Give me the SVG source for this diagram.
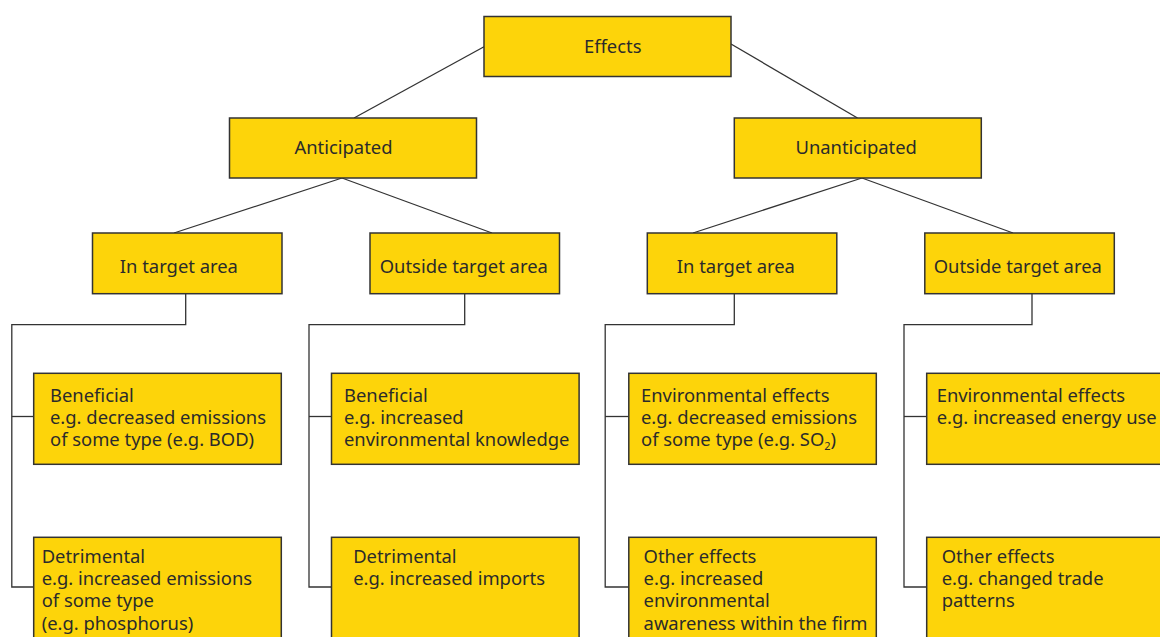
<svg xmlns="http://www.w3.org/2000/svg" width="1160" height="637" viewBox="0 0 1160 637">
<style>
.box{fill:#FDD40A;stroke:#333;stroke-width:1.5}
.t{font-family:"Noto Sans","Open Sans","DejaVu Sans",sans-serif;font-size:18.4px;fill:#2b2b2b}
.c{text-anchor:middle}
.ln{fill:none;stroke:#333;stroke-width:1.3}
</style>
<rect width="1160" height="637" fill="#fff"/>
<g id="connectors">
<line class="ln" x1="484" y1="46.7" x2="354" y2="118"/>
<line class="ln" x1="731" y1="44" x2="857.5" y2="118"/>
<line class="ln" x1="342" y1="178" x2="174" y2="233"/>
<line class="ln" x1="342" y1="178" x2="492" y2="233"/>
<line class="ln" x1="862" y1="178" x2="693" y2="233"/>
<line class="ln" x1="862" y1="178" x2="1013" y2="233"/>
<polyline class="ln" points="185.7,294 185.7,324.7 11.8,324.7 11.8,587 33.7,587"/>
<line class="ln" x1="11.8" y1="416.5" x2="33.7" y2="416.5"/>
<polyline class="ln" points="464.7,294 464.7,324.7 309,324.7 309,587 331.5,587"/>
<line class="ln" x1="309" y1="416.5" x2="331.5" y2="416.5"/>
<polyline class="ln" points="734.3,294 734.3,324.7 605.2,324.7 605.2,587 628.8,587"/>
<line class="ln" x1="605.2" y1="416.5" x2="628.8" y2="416.5"/>
<polyline class="ln" points="1032,294 1032,324.7 904,324.7 904,587 926.7,587"/>
<line class="ln" x1="904" y1="416.5" x2="926.7" y2="416.5"/>
</g>
<g id="effects">
<rect class="box" x="484" y="16.5" width="247" height="60"/>
<text class="t c" x="612.7" y="52.7">Effects</text>
</g>
<g id="anticipated">
<rect class="box" x="229.5" y="118" width="247" height="60"/>
<text class="t c" x="343.5" y="154">Anticipated</text>
</g>
<g id="unanticipated">
<rect class="box" x="734.3" y="118" width="247" height="60"/>
<text class="t c" x="856.2" y="154">Unanticipated</text>
</g>
<g id="a-in">
<rect class="box" x="92.5" y="233" width="189.5" height="60.7"/>
<text class="t c" x="178.9" y="272.7">In target area</text>
</g>
<g id="a-out">
<rect class="box" x="370" y="233" width="189.5" height="60.7"/>
<text class="t c" x="463.8" y="272.7">Outside target area</text>
</g>
<g id="u-in">
<rect class="box" x="647.3" y="233" width="189.5" height="60.7"/>
<text class="t c" x="735.9" y="272.7">In target area</text>
</g>
<g id="u-out">
<rect class="box" x="924.8" y="233" width="189.5" height="60.7"/>
<text class="t c" x="1017.8" y="272.7">Outside target area</text>
</g>
<g id="a-in-ben">
<rect class="box" x="33.7" y="373.3" width="247.6" height="91"/>
<text class="t" x="50" y="401.7">Beneficial<tspan x="50" dy="22.3">e.g. decreased emissions</tspan><tspan x="50" dy="22.3">of some type (e.g. BOD)</tspan></text>
</g>
<g id="a-in-det">
<rect class="box" x="33.7" y="537.3" width="247.6" height="110"/>
<text class="t" x="41.7" y="562.7">Detrimental<tspan x="41.7" dy="22.3">e.g. increased emissions</tspan><tspan x="41.7" dy="22.3">of some type</tspan><tspan x="41.7" dy="22.3">(e.g. phosphorus)</tspan></text>
</g>
<g id="a-out-ben">
<rect class="box" x="331.5" y="373.3" width="247.6" height="91"/>
<text class="t" x="344" y="401.7">Beneficial<tspan x="344" dy="22.3">e.g. increased</tspan><tspan x="344" dy="22.3">environmental knowledge</tspan></text>
</g>
<g id="a-out-det">
<rect class="box" x="331.5" y="537.3" width="247.6" height="110"/>
<text class="t" x="353.2" y="562.7">Detrimental<tspan x="353.2" dy="22.3">e.g. increased imports</tspan></text>
</g>
<g id="u-in-env">
<rect class="box" x="628.8" y="373.3" width="247.5" height="91"/>
<text class="t" x="641" y="401.7">Environmental effects<tspan x="641" dy="22.3">e.g. decreased emissions</tspan><tspan x="641" dy="22.3">of some type (e.g. SO</tspan><tspan font-size="11" dy="4">2</tspan><tspan dy="-4">)</tspan></text>
</g>
<g id="u-in-other">
<rect class="box" x="628.8" y="537.3" width="247.5" height="110"/>
<text class="t" x="643.6" y="562.7">Other effects<tspan x="643.6" dy="22.3">e.g. increased</tspan><tspan x="643.6" dy="22.3">environmental</tspan><tspan x="643.6" dy="22.3">awareness within the firm</tspan></text>
</g>
<g id="u-out-env">
<rect class="box" x="926.7" y="373.3" width="250" height="91"/>
<text class="t" x="936.7" y="401.7">Environmental effects<tspan x="936.7" dy="22.3">e.g. increased energy use</tspan></text>
</g>
<g id="u-out-other">
<rect class="box" x="926.7" y="537.3" width="250" height="110"/>
<text class="t" x="941.7" y="562.7">Other effects<tspan x="941.7" dy="22.3">e.g. changed trade</tspan><tspan x="941.7" dy="22.3">patterns</tspan></text>
</g>
</svg>
